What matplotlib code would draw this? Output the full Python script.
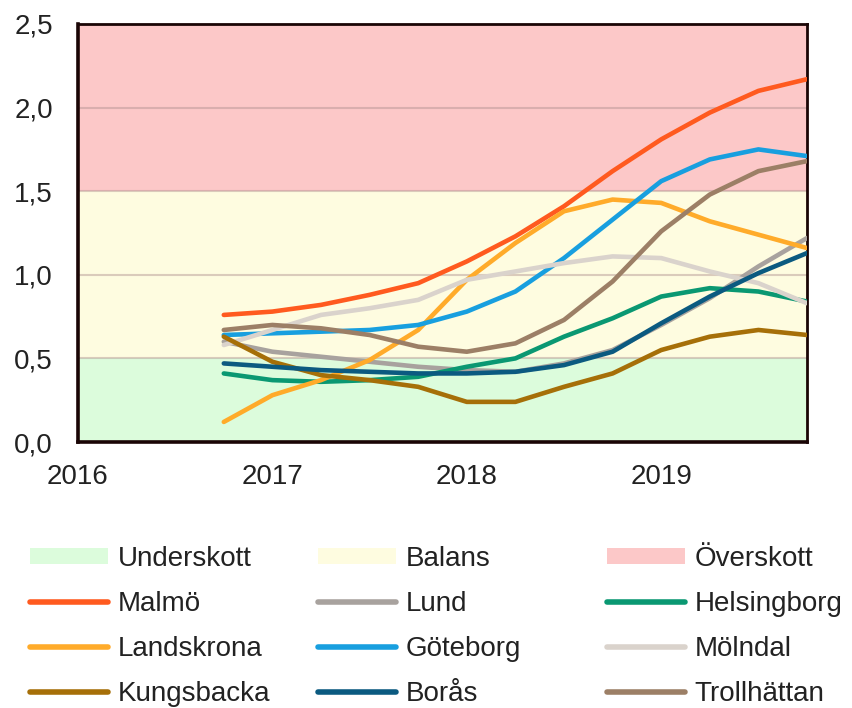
import matplotlib
matplotlib.use('Agg')
import matplotlib.pyplot as plt
from matplotlib.patches import Patch
from matplotlib.lines import Line2D

plt.rcParams['font.family'] = ['Liberation Sans', 'DejaVu Sans']

# quarters 2016 Q4 .. 2019 Q4, index 0..12 ; year labels sit on index -3, 1, 5, 9
quarters = list(range(13))
year_pos = [-3, 1, 5, 9]
year_labels = ['2016', '2017', '2018', '2019']

malmo = [0.76, 0.78, 0.82, 0.88, 0.95, 1.08, 1.23, 1.41, 1.62, 1.81, 1.97, 2.10, 2.17]
lund = [0.60, 0.54, 0.51, 0.48, 0.45, 0.43, 0.42, 0.47, 0.55, 0.70, 0.86, 1.05, 1.22]
helsingborg = [0.41, 0.37, 0.36, 0.37, 0.39, 0.45, 0.50, 0.63, 0.74, 0.87, 0.92, 0.90, 0.84]
landskrona = [0.12, 0.28, 0.37, 0.49, 0.67, 0.97, 1.19, 1.38, 1.45, 1.43, 1.32, 1.24, 1.16]
goteborg = [0.64, 0.65, 0.66, 0.67, 0.70, 0.78, 0.90, 1.10, 1.33, 1.56, 1.69, 1.75, 1.71]
molndal = [0.58, 0.67, 0.76, 0.80, 0.85, 0.97, 1.02, 1.07, 1.11, 1.10, 1.02, 0.95, 0.83]
kungsbacka = [0.63, 0.48, 0.40, 0.37, 0.33, 0.24, 0.24, 0.33, 0.41, 0.55, 0.63, 0.67, 0.64]
boras = [0.47, 0.45, 0.43, 0.42, 0.41, 0.41, 0.42, 0.46, 0.54, 0.71, 0.87, 1.01, 1.13]
trollhattan = [0.67, 0.70, 0.68, 0.64, 0.57, 0.54, 0.59, 0.73, 0.96, 1.26, 1.48, 1.62, 1.68]

# bands: (label, low, high, colour)
bands = [('Underskott', 0.0, 0.5, '#dcfcdc'),
         ('Balans', 0.5, 1.5, '#fefce0'),
         ('Överskott', 1.5, 2.5, '#fcc8c8')]

series = [('Malmö', malmo, '#ff5a1f'),
          ('Lund', lund, '#a8a29e'),
          ('Helsingborg', helsingborg, '#0a9872'),
          ('Landskrona', landskrona, '#ffab2a'),
          ('Göteborg', goteborg, '#189fdf'),
          ('Mölndal', molndal, '#dad3cc'),
          ('Kungsbacka', kungsbacka, '#a66f08'),
          ('Borås', boras, '#0b5a80'),
          ('Trollhättan', trollhattan, '#9c7f66')]

yticks = [0.0, 0.5, 1.0, 1.5, 2.0, 2.5]

fig = plt.figure(figsize=(8.52, 7.08), dpi=100)
ax = fig.add_axes([78/852, 1-442/708, (807-78)/852, (442-24)/708])

for lab, lo, hi, col in bands:
    ax.axhspan(lo, hi, color=col, lw=0, zorder=0)
for yv in yticks[1:-1]:
    ax.axhline(yv, color='#b09090', alpha=0.45, lw=1.5, zorder=1)

for name, vals, col in series:
    ax.plot(quarters, vals, color=col, lw=3.3, solid_joinstyle='round',
            solid_capstyle='round', zorder=3)

ax.set_xlim(-3, 12)
ax.set_ylim(0, 2.5)
ax.set_xticks(year_pos)
ax.set_xticklabels(year_labels)
ax.set_yticks(yticks)
ax.set_yticklabels([f'{v:.1f}'.replace('.', ',') for v in yticks])
ax.tick_params(axis='both', length=0, labelsize=20, colors='#222222')
ax.tick_params(axis='y', pad=18)
ax.tick_params(axis='x', pad=16)
for s in ax.spines.values():
    s.set_color('#1a0505')
    s.set_linewidth(2)
ax.spines['left'].set_linewidth(2.6)
ax.spines['bottom'].set_linewidth(2.6)

# legend: three columns placed by hand (series order is row-wise)
col_x = [30, 318, 607]
for c in range(3):
    lab, lo, hi, bcol = bands[c]
    handles = [Patch(facecolor=bcol, edgecolor='none', label=lab)]
    for k in (c, c + 3, c + 6):
        name, vals, col = series[k]
        handles.append(Line2D([], [], color=col, lw=4, solid_capstyle='round', label=name))
    fig.legend(handles=handles, loc='upper left',
               bbox_to_anchor=(col_x[c]/852, 1-546/708),
               frameon=False, fontsize=20, handlelength=2.8, handleheight=0.5,
               handletextpad=0.35, labelspacing=0.68, borderpad=0, borderaxespad=0,
               labelcolor='#222222')

fig.savefig('out.png', dpi=100)
